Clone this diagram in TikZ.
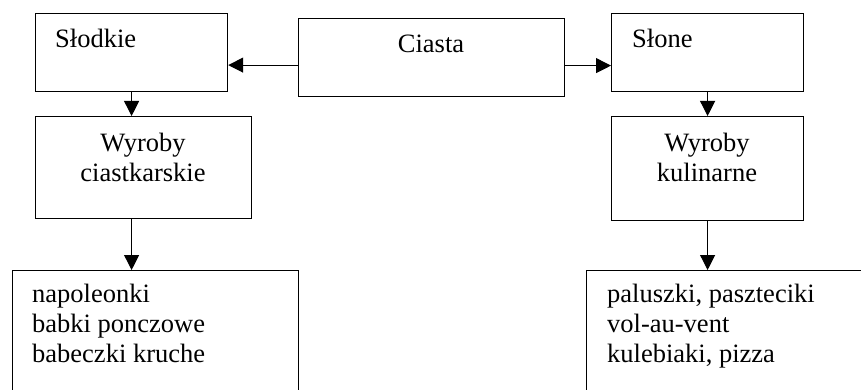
\documentclass[tikz,border=0pt]{standalone}
\usepackage{fontspec}
\setmainfont{Liberation Serif}
\usetikzlibrary{arrows.meta}
\begin{document}
\begin{tikzpicture}[x=1pt,y=-1pt,
  box/.style={draw, line width=1.2pt, rectangle, inner sep=0pt, anchor=north west},
  txt/.style={inner sep=0pt, font=\fontsize{26.5}{30}\selectfont},
  arr/.style={line width=1.1pt, -{Triangle[length=15pt,width=15pt]}}]
\useasboundingbox (0,0) rectangle (861,390);
% boxes
\node[box, minimum width=266pt, minimum height=78pt] (ciasta) at (298,18) {};
\node[box, minimum width=192pt, minimum height=78pt] (slodkie) at (35,13) {};
\node[box, minimum width=192pt, minimum height=78pt] (slone) at (611,13) {};
\node[box, minimum width=216pt, minimum height=102pt] (wc) at (35,116) {};
\node[box, minimum width=192pt, minimum height=104pt] (wk) at (611,116) {};
\node[box, minimum width=286pt, minimum height=140pt] (l1) at (12,270) {};
\node[box, minimum width=300pt, minimum height=140pt] (l2) at (586,270) {};
% labels (the base anchor of a multi-line node sits on its last line)
\node[txt, anchor=base] (tc) at (431,53) {Ciasta};
\node[txt, anchor=base west] (ts) at (55,48) {Słodkie};
\node[txt, anchor=base west] (tn) at (632,48) {Słone};
\node[txt, anchor=base, align=center] (twc) at (143,182) {Wyroby\\ciastkarskie};
\node[txt, anchor=base, align=center] (twk) at (707,182) {Wyroby\\kulinarne};
\node[txt, anchor=base west, align=left] (tl1) at (32,362) {napoleonki\\babki ponczowe\\babeczki kruche};
\node[txt, anchor=base west, align=left] (tl2) at (607,362) {paluszki, paszteciki\\vol-au-vent\\kulebiaki, pizza};
% connectors
\draw[arr] ([yshift=-7.5pt]ciasta.west) -- ([yshift=-7.5pt]ciasta.west -| slodkie.east);
\draw[arr] ([yshift=-8pt]ciasta.east) -- ([yshift=-8pt]ciasta.east -| slone.west);
\draw[arr] (slodkie.south) -- (slodkie.south |- wc.north);
\draw[arr] (slodkie.south |- wc.south) -- (slodkie.south |- l1.north);
\draw[arr] (slone.south) -- (slone.south |- wk.north);
\draw[arr] (slone.south |- wk.south) -- (slone.south |- l2.north);
\end{tikzpicture}
\end{document}
